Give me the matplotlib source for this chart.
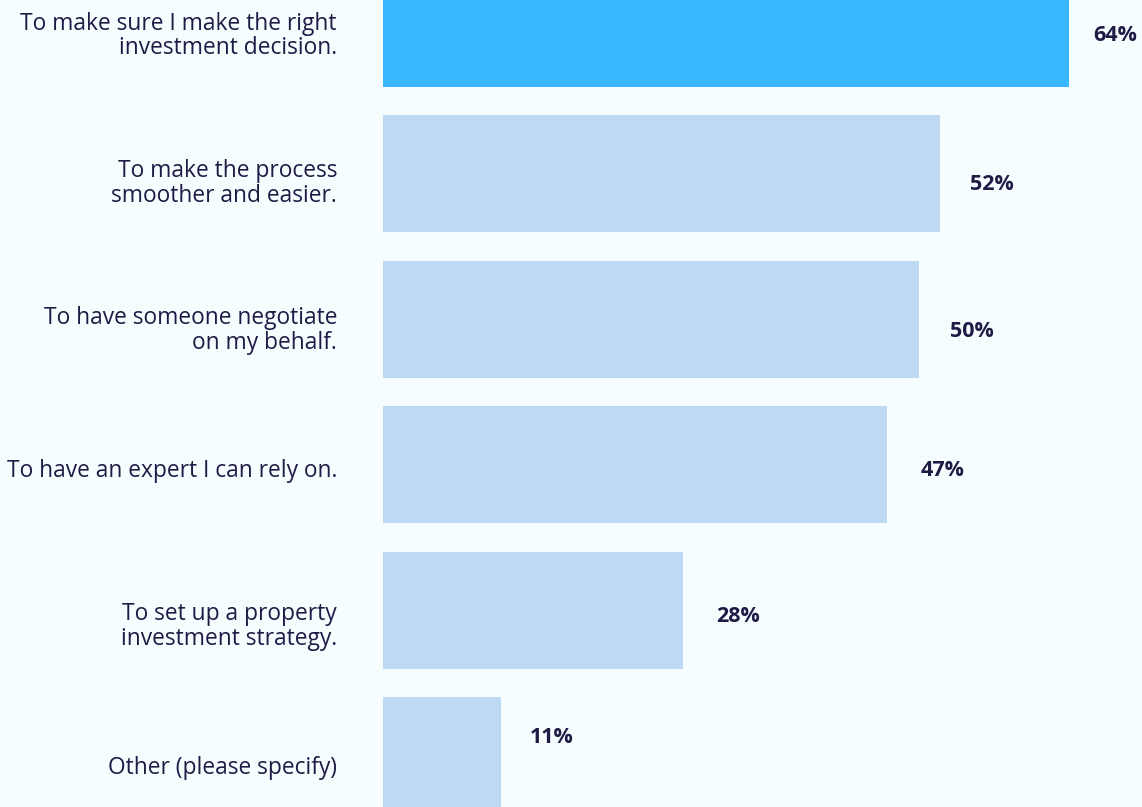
import matplotlib
matplotlib.use("Agg")
import matplotlib.pyplot as plt
from matplotlib.transforms import ScaledTranslation

categories = [
    "To make sure I make the right\ninvestment decision.",
    "To make the process\nsmoother and easier.",
    "To have someone negotiate\non my behalf.",
    "To have an expert I can rely on.",
    "To set up a property\ninvestment strategy.",
    "Other (please specify)",
]
values = [64, 52, 50, 47, 28, 11]
value_labels = ["64%", "52%", "50%", "47%", "28%", "11%"]

# pixel nudges for the text beside each bar
cat_nudge = [7.5, 10, 11, 6, 16, 13]
val_nudge = [7, 11, 12, 6, 6, -18]
val_gap = [24, 30, 31, 34, 33, 29]

BG = "#F5FDFF"
HILITE = "#38B6FF"
BAR = "#BDD9F3"
TEXT = "#1E1B45"
FONT = ["Open Sans", "DejaVu Sans"]

W, H, DPI = 1142, 807, 100
fig = plt.figure(figsize=(W / DPI, H / DPI), dpi=DPI, facecolor=BG)
ax = fig.add_axes([383 / W, 0, 1 - 383 / W, 1], facecolor=BG)

px_per_unit = 10.72
pitch = 145.4
ax.set_xlim(0, (W - 383) / px_per_unit)
ax.set_ylim((H - 28.5) / pitch, -28.5 / pitch)

ypos = list(range(len(values)))
colors = [HILITE] + [BAR] * (len(values) - 1)
ax.barh(ypos, values, height=117 / pitch, color=colors, linewidth=0)

for s in ax.spines.values():
    s.set_visible(False)
ax.set_xticks([])
ax.set_yticks([])

for i, (cat, v, lab) in enumerate(zip(categories, values, value_labels)):
    off_c = ScaledTranslation(-46 / DPI, -cat_nudge[i] / DPI, fig.dpi_scale_trans)
    ax.text(0, i, cat, transform=ax.transData + off_c, ha="right", va="center",
            fontsize=16.4, family=FONT, color=TEXT, linespacing=1.05, clip_on=False)
    off_v = ScaledTranslation(val_gap[i] / DPI, -val_nudge[i] / DPI, fig.dpi_scale_trans)
    ax.text(v, i, lab, transform=ax.transData + off_v, ha="left", va="center",
            fontsize=15.5, fontweight="bold", family=FONT, color=TEXT, clip_on=False)

fig.savefig("out.png", dpi=DPI, facecolor=BG)
